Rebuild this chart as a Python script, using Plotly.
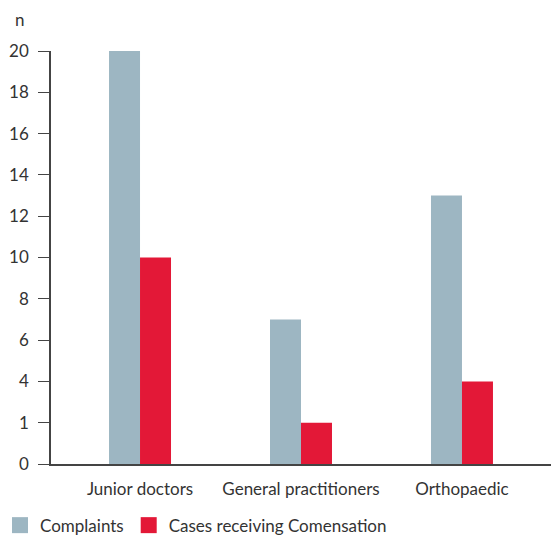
import plotly.graph_objects as go

categories = ["Junior doctors", "General practitioners", "Orthopaedic"]
complaints = [20, 7, 13]
compensation = [10, 2, 4]
tick_values = [0, 2, 4, 6, 8, 10, 12, 14, 16, 18, 20]
tick_labels = ["0", "1", "4", "6", "8", "10", "12", "14", "16", "18", "20"]

font_family = "Lato, Open Sans, sans-serif"
text_color = "#333333"
complaints_color = "#9DB6C2"
compensation_color = "#E31837"

fig = go.Figure()
fig.add_trace(go.Bar(x=categories, y=complaints, name="Complaints", showlegend=False,
                     marker=dict(color=complaints_color, line=dict(width=0))))
fig.add_trace(go.Bar(x=categories, y=compensation, name="Cases receiving Comensation",
                     showlegend=False,
                     marker=dict(color=compensation_color, line=dict(width=0))))

# legend entries with larger square swatches
for name, color in [("Complaints", complaints_color),
                    ("Cases receiving Comensation", compensation_color)]:
    fig.add_trace(go.Scatter(x=[None], y=[None], mode="markers", name=name,
                             marker=dict(symbol="square", size=16, color=color)))

fig.update_layout(
    width=551, height=536,
    margin=dict(l=51, r=0, t=51, b=72, autoexpand=False),
    paper_bgcolor="white", plot_bgcolor="white",
    barmode="group", bargap=0.615, bargroupgap=0,
    font=dict(family=font_family, size=17, color=text_color),
    showlegend=True,
    legend=dict(orientation="h", xref="container", x=0.0, xanchor="left",
                yref="container", y=0.053, yanchor="top",
                font=dict(size=17, color=text_color), traceorder="normal",
                itemwidth=30),
    xaxis=dict(range=[-0.553, 2.553], showline=True, linecolor="#444444", linewidth=1.5,
               ticks="", showgrid=False, zeroline=False, tickfont=dict(size=17),
               ticklabelstandoff=9, automargin=False),
    yaxis=dict(range=[0, 20], tickvals=tick_values, ticktext=tick_labels,
               showline=True, linecolor="#444444", linewidth=1.5,
               ticks="outside", ticklen=11, tickcolor="#444444", tickwidth=1.2,
               showgrid=False, zeroline=False, tickfont=dict(size=17),
               ticklabelstandoff=6, automargin=False),
    annotations=[dict(text="n", xref="paper", yref="paper", x=-0.062, y=1.0,
                      yshift=32, xanchor="center", yanchor="middle",
                      showarrow=False, font=dict(size=17, color=text_color))],
)

fig.write_html("out.html")
